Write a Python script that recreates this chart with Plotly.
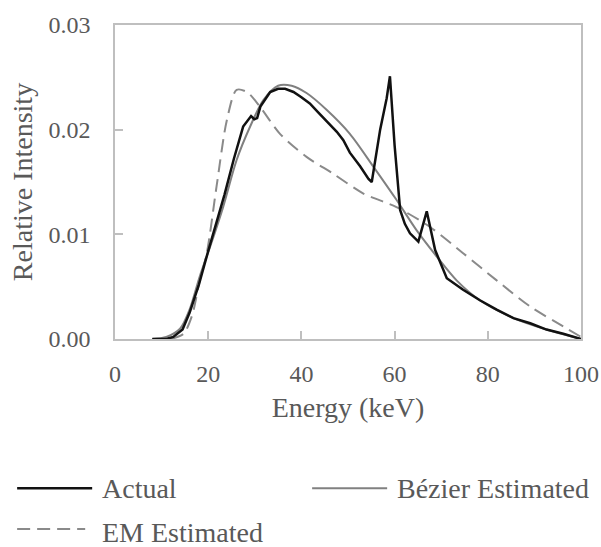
import plotly.graph_objects as go

# Measured spectrum
actual_energy = [8, 11, 12.5, 14.5, 16, 18, 20, 22, 23.5, 25.5, 27.5, 29.2, 29.9, 30.5,
                 31.2, 33.3, 35, 36.5, 38.3, 40, 41.8, 43.5, 45.4, 47.6, 49, 50.4, 52.6,
                 54.4, 55.1, 56.9, 58.3, 59, 60, 61.2, 62.2, 63.3, 65.1, 66.9, 68.7, 71.2,
                 74.7, 78.3, 81.9, 85.5, 89.1, 92.6, 96.2, 100]
actual_intensity = [0, 0, 0.0002, 0.0009, 0.0025, 0.0052, 0.0084, 0.0115, 0.0138, 0.0172,
                    0.0203, 0.0213, 0.0210, 0.0211, 0.0222, 0.0236, 0.0239, 0.0239, 0.0236,
                    0.0231, 0.0225, 0.0217, 0.0208, 0.0198, 0.0190, 0.0178, 0.0165, 0.0153,
                    0.0150, 0.0200, 0.0230, 0.0251, 0.0185, 0.0123, 0.0110, 0.0101, 0.0093,
                    0.0122, 0.0085, 0.0058, 0.0047, 0.0037, 0.0028, 0.0020, 0.0015, 0.0009,
                    0.0005, 0.0000]

# Bézier-curve estimate
bezier_energy = [8, 11, 14, 16, 18.2, 20.4, 23.2, 26.1, 29, 31.8, 35, 37.9, 41.1, 45.4,
                 50.4, 55.4, 60.4, 64.7, 69, 73.3, 78.3, 85.5, 92.6, 100]
bezier_intensity = [0, 0.0002, 0.0010, 0.0028, 0.0060, 0.0088, 0.0126, 0.0171, 0.0203,
                    0.0228, 0.0242, 0.0242, 0.0235, 0.0219, 0.0196, 0.0165, 0.0133, 0.0104,
                    0.0079, 0.0056, 0.0037, 0.0020, 0.0009, 0.0]

# EM estimate
em_energy = [12, 14.7, 16.5, 18.2, 19.7, 21.8, 24, 26.1, 28.3, 31.1, 35.4, 41.1, 46.8,
             53.3, 60.4, 67.6, 74.7, 81.9, 89.1, 96.2, 100]
em_intensity = [0, 0.0005, 0.0022, 0.0056, 0.0082, 0.0146, 0.0209, 0.0238, 0.0236, 0.0222,
                0.0196, 0.0174, 0.0158, 0.0139, 0.0126, 0.0107, 0.0082, 0.0056, 0.0031,
                0.0012, 0.0002]

x_ticks = [0, 20, 40, 60, 80, 100]
y_ticks = [0.00, 0.01, 0.02, 0.03]
y_tick_text = ["0.00", "0.01", "0.02", "0.03"]

FONT = "Liberation Serif"
TEXT = "#595959"
FRAME = "#bfbfbf"
C_ACTUAL = "#111111"
C_BEZIER = "#808080"
C_EM = "#8a8a8a"
EM_DASH = "13px,7px"

fig = go.Figure()
fig.add_trace(go.Scatter(x=em_energy, y=em_intensity, mode="lines", name="EM Estimated",
                         line=dict(color=C_EM, width=2, dash=EM_DASH, shape="spline",
                                   smoothing=0.8)))
fig.add_trace(go.Scatter(x=bezier_energy, y=bezier_intensity, mode="lines",
                         name="Bézier Estimated",
                         line=dict(color=C_BEZIER, width=2, shape="spline", smoothing=0.8)))
fig.add_trace(go.Scatter(x=actual_energy, y=actual_intensity, mode="lines", name="Actual",
                         line=dict(color=C_ACTUAL, width=2.5)))

# Legend drawn below the axes: sample line + label for each series
# (label, colour, width, dash, line x0, line x1, line y, label x, label y)
legend_items = [
    ("Actual", C_ACTUAL, 2.5, "solid", -0.210, -0.049, -0.475, -0.032, -0.475),
    ("Bézier Estimated", C_BEZIER, 2, "solid", 0.423, 0.584, -0.475, 0.601, -0.475),
    ("EM Estimated", C_EM, 2, EM_DASH, -0.210, -0.064, -0.605, -0.032, -0.617),
]
for label, color, width, dash, x0, x1, ly, tx, ty in legend_items:
    fig.add_shape(type="line", xref="paper", yref="paper", x0=x0, x1=x1, y0=ly, y1=ly,
                  line=dict(color=color, width=width, dash=dash))
    fig.add_annotation(xref="paper", yref="paper", x=tx, y=ty, text=label, showarrow=False,
                       xanchor="left", yanchor="middle",
                       font=dict(family=FONT, size=28, color=TEXT))

axis_common = dict(
    showline=True, linecolor=FRAME, linewidth=1.5, mirror=True,
    ticks="inside", ticklen=8, tickwidth=1.5, tickcolor=FRAME,
    showgrid=False, zeroline=False, automargin=False,
    tickfont=dict(family=FONT, size=24, color=TEXT),
)

fig.update_layout(
    width=601, height=547,
    margin=dict(l=115, r=20, t=25, b=208, autoexpand=False),
    paper_bgcolor="white", plot_bgcolor="white",
    showlegend=False,
    font=dict(family=FONT, color=TEXT),
    xaxis=dict(range=[0, 100], tickvals=x_ticks, ticklabelstandoff=12,
               title=dict(text="Energy (keV)", font=dict(family=FONT, size=28, color=TEXT),
                          standoff=12),
               **axis_common),
    yaxis=dict(range=[0, 0.03], tickvals=y_ticks, ticktext=y_tick_text, ticklabelstandoff=18,
               title=dict(text="Relative Intensity",
                          font=dict(family=FONT, size=28, color=TEXT), standoff=8),
               **axis_common),
)

fig.write_html("out.html")
